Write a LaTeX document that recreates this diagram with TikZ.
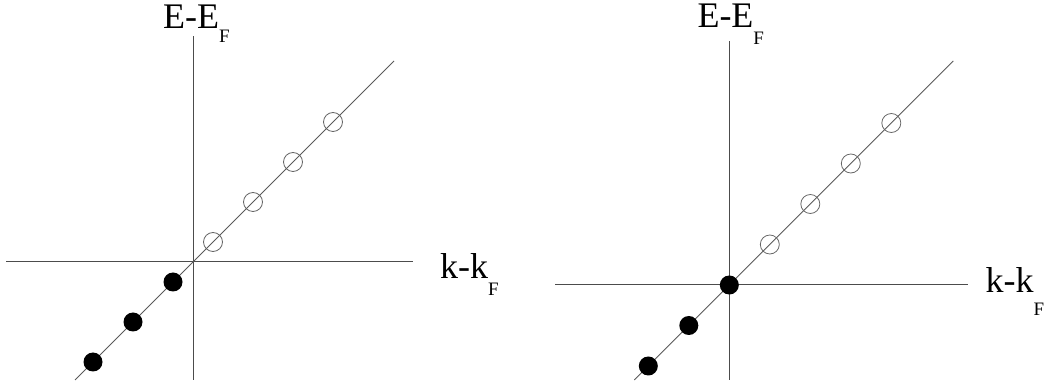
\documentclass[tikz,border=0pt]{standalone}
\usepackage{fontspec}
\setmainfont{Liberation Serif}
\newcommand{\axlabel}[3]{\fontsize{36}{36}\selectfont #1\raisebox{-#3}{\fontsize{19}{19}\selectfont #2}}
\tikzset{
  axis/.style={line width=1pt, black!70},
  band/.style={line width=0.8pt, black!65},
  hole/.style={line width=0.8pt, black!60},
  electron/.style={fill=black},
  lbl/.style={anchor=base west, inner sep=0pt}
}
\begin{document}
\begin{tikzpicture}[x=1pt,y=1pt]
  \useasboundingbox (0,0) rectangle (1057,385);
  % left panel
  \begin{scope}[shift={(193,123)}]
    \draw[axis] (0,-118) -- (0,226);
    \draw[axis] (-187,0) -- (220,0);
    \draw[band] (-118,-118) -- (201,201);
    \foreach \i in {20,60,100,140} \draw[hole] (\i,\i) circle (9.5);
    \foreach \i in {-20,-60,-100} \fill[electron] (\i,\i) circle (9.5);
    \node[lbl] (eL) at (-30,233) {\axlabel{E-E}{F}{14pt}};
    \node[lbl] (kL) at (247,-17) {\axlabel{k-k}{F}{17pt}};
  \end{scope}
  % right panel
  \begin{scope}[shift={(729.3,100)}]
    \draw[axis] (0,-95) -- (0,244);
    \draw[axis] (-174,0) -- (239,0);
    \draw[band] (-95,-95) -- (224,224);
    \foreach \i in {40.5,81,121.5,162} \draw[hole] (\i,\i) circle (9.5);
    \foreach \i in {0,-40.5,-81} \fill[electron] (\i,\i) circle (9.5);
    \node[lbl] (eR) at (-32,257) {\axlabel{E-E}{F}{17pt}};
    \node[lbl] (kR) at (256,-8) {\axlabel{k-k}{F}{23pt}};
  \end{scope}
\end{tikzpicture}
\end{document}
